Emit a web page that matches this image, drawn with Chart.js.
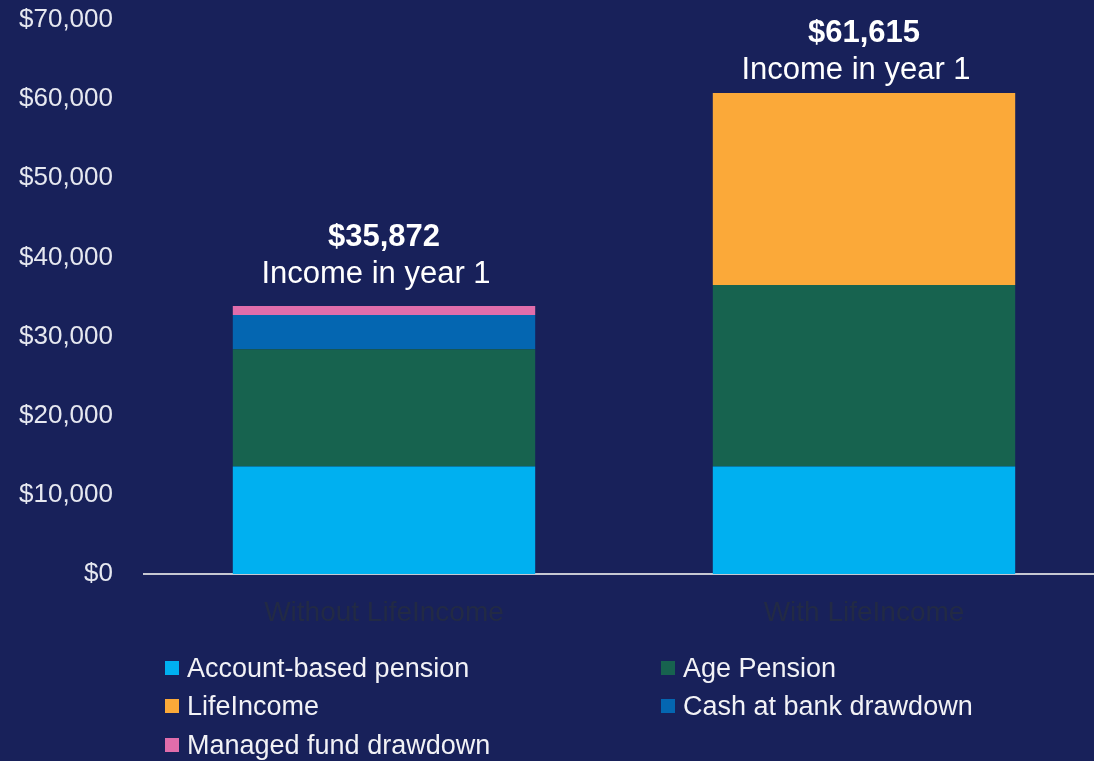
<!DOCTYPE html>
<html>
<head>
<meta charset="utf-8">
<script src="https://cdn.jsdelivr.net/npm/chart.js@4/dist/chart.umd.min.js"></script>
<style>
  html, body { margin: 0; padding: 0; width: 1094px; height: 761px; overflow: hidden; background: #18215a; }
  #wrap { position: absolute; left: 0; top: 0; width: 1104px; height: 761px; }
  #legend { position: absolute; left: 0; top: 0; width: 1094px; height: 761px; pointer-events: none; }
  .li { position: absolute; height: 30px; display: flex; align-items: center; font-family: "Liberation Sans", Arial, sans-serif; font-size: 27px; color: #f2f2f6; white-space: nowrap; }
  .sw { width: 14px; height: 14px; margin-right: 8px; flex: none; }
</style>
</head>
<body>
<div id="wrap"><canvas id="c"></canvas></div>
<div id="legend"></div>
<script>
const categories = ['Without LifeIncome', 'With LifeIncome'];
const seriesNames = ['Account-based pension', 'Age Pension', 'LifeIncome', 'Cash at bank drawdown', 'Managed fund drawdown'];
const accountBasedPension = [13580, 13580];
const agePension = [14810, 22940];
const lifeIncome = [0, 24260];
const cashAtBankDrawdown = [4340, 0];
const managedFundDrawdown = [1140, 0];
const incomeTotals = [35872, 61615];
const yTickValues = [0, 10000, 20000, 30000, 40000, 50000, 60000, 70000];

const seriesColors = ['#00b0f0', '#17634f', '#fba939', '#0466b1', '#e06dab'];
const seriesValues = [accountBasedPension, agePension, lifeIncome, cashAtBankDrawdown, managedFundDrawdown];

const fontFamily = '"Liberation Sans", Arial, sans-serif';

const totalsPlugin = {
  id: 'totals',
  afterDatasetsDraw(chart) {
    const ctx = chart.ctx;
    const xs = chart.scales.x, ys = chart.scales.y;
    ctx.save();
    ctx.fillStyle = '#ffffff';
    ctx.textAlign = 'center';
    ctx.textBaseline = 'middle';
    incomeTotals.forEach((t, i) => {
      const cx = xs.getPixelForValue(i);
      const py = ys.getPixelForValue(t);
      ctx.font = 'bold 31px ' + fontFamily;
      ctx.fillText('$' + t.toLocaleString('en-US'), cx, py - 53);
      ctx.font = '31px ' + fontFamily;
      ctx.fillText('Income in year 1', cx - 8, py - 16);
    });
    ctx.restore();
  }
};

const chart = new Chart(document.getElementById('c'), {
  type: 'bar',
  data: {
    labels: categories,
    datasets: seriesNames.map((n, i) => ({
      label: n,
      data: seriesValues[i],
      backgroundColor: seriesColors[i],
      borderWidth: 0,
      barPercentage: 0.63,
      categoryPercentage: 1.0
    }))
  },
  options: {
    responsive: true,
    maintainAspectRatio: false,
    animation: false,
    layout: { padding: { top: 20, left: 0, right: 0, bottom: 127 } },
    plugins: { legend: { display: false }, tooltip: { enabled: false } },
    scales: {
      x: {
        stacked: true,
        grid: { display: false, drawTicks: false },
        border: { display: true, color: '#c6c8d2', width: 2 },
        ticks: { color: '#222a45', font: { family: fontFamily, size: 28 }, padding: 22 },
        afterFit(s) { s.height = 60; }
      },
      y: {
        stacked: true,
        min: 0, max: 70000,
        afterBuildTicks(s) { s.ticks = yTickValues.map(v => ({ value: v })); },
        grid: { display: false, drawTicks: false },
        border: { display: false },
        ticks: {
          color: '#e6e8f0',
          font: { family: fontFamily, size: 26 },
          padding: 31,
          callback: v => '$' + Number(v).toLocaleString('en-US')
        },
        afterFit(s) { s.width = 144; s.paddingTop = 0; s.paddingBottom = 0; }
      }
    }
  },
  plugins: [totalsPlugin]
});

// HTML legend built from the datasets
const legend = document.getElementById('legend');
const colX = [165, 661];
const rowY = [668, 706, 745];
seriesNames.forEach((n, i) => {
  const d = document.createElement('div');
  d.className = 'li';
  d.style.left = colX[i % 2] + 'px';
  d.style.top = (rowY[Math.floor(i / 2)] - 15) + 'px';
  const sw = document.createElement('span');
  sw.className = 'sw';
  sw.style.background = seriesColors[i];
  d.appendChild(sw);
  d.appendChild(document.createTextNode(n));
  legend.appendChild(d);
});
</script>
</body>
</html>
